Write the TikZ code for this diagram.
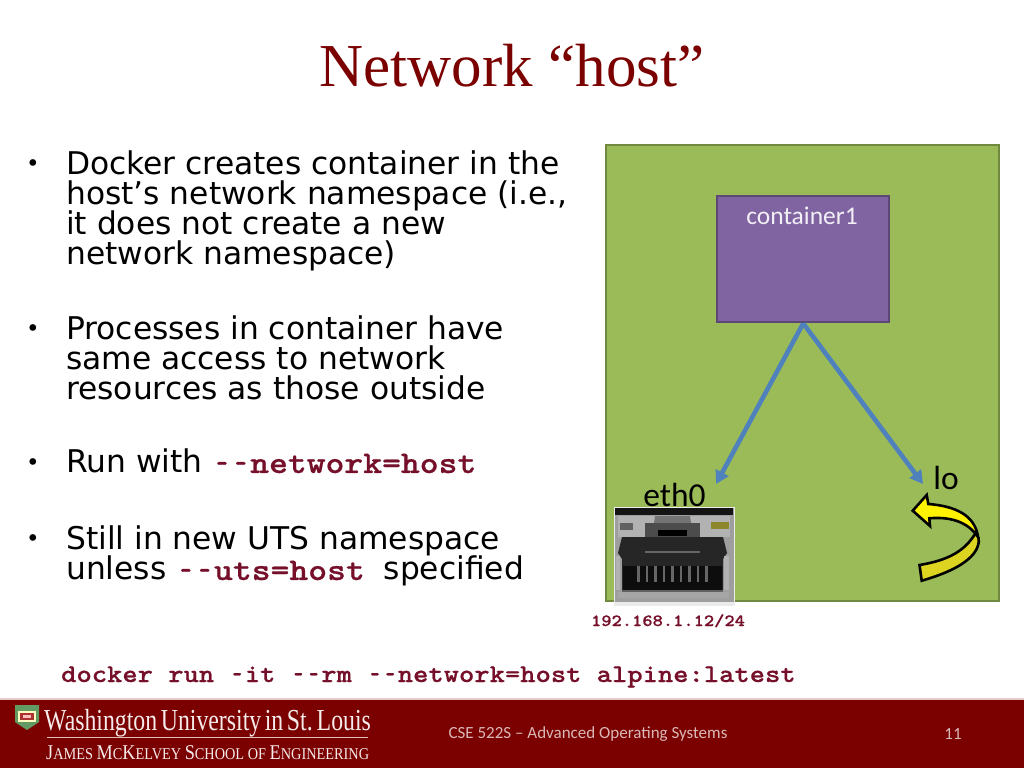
\documentclass[tikz,border=0pt]{standalone}
\usepackage{fontspec}
\setmainfont{DejaVu Sans}
\newfontfamily\titlefont{Liberation Serif}
\newfontfamily\calfont{Carlito}
\newfontfamily\codefont[FakeStretch=1.143,FakeBold=0.6]{Latin Modern Mono Light}
\usetikzlibrary{arrows.meta}
\lineskiplimit=-40pt\relax
\normallineskiplimit=-40pt\relax
\definecolor{wured}{HTML}{7B0000}
\definecolor{codered}{HTML}{76102A}
\definecolor{hostgreen}{HTML}{9BBB59}
\definecolor{hostedge}{HTML}{71893F}
\definecolor{boxpurple}{HTML}{8064A2}
\definecolor{boxedge}{HTML}{5C4776}
\definecolor{linkblue}{HTML}{4F81BD}
\tikzset{
  x=1pt,y=-1pt,
  bodytext/.style={anchor=north west,inner sep=0pt,align=left,text=black,font=\fontsize{31.3}{30}\selectfont},
  bulletmark/.style={anchor=center,inner sep=0pt,font=\fontsize{23}{23}\selectfont},
  codetext/.style={anchor=base west,inner sep=0pt,text=codered,font=\codefont\bfseries\fontsize{25.5}{26}\selectfont},
  linkarrow/.style={draw=linkblue,line width=4.6pt,-{Triangle[length=13pt,width=14pt]}},
  footertext/.style={anchor=center,inner sep=0pt,text=white!72!wured,font=\calfont\fontsize{17}{17}\selectfont},
  eplabel/.style={anchor=center,inner sep=0pt,text=black,font=\calfont\fontsize{33.5}{33}\selectfont},
  yellowband/.style={draw=black,line width=2.6pt,line join=miter},
}
\newcommand{\hy}{\setbox0=\hbox{-}\makebox[\wd0]{\scalebox{0.62}[1]{-}}}
\newcommand{\cd}[1]{{\codefont\bfseries\fontsize{31.4}{30}\selectfont\textcolor{codered}{#1}}}
\begin{document}
\begin{tikzpicture}
\useasboundingbox (0,0) rectangle (1024,768);
\fill[white] (0,0) rectangle (1024,768);

\node[anchor=center,inner sep=0pt,text=wured,font=\titlefont\fontsize{61}{60}\selectfont] (title) at (512,66) {Network “host”};

% bullets
\node[bulletmark] (b1) at (33,166) {•};
\node[bulletmark] (b2) at (33,331) {•};
\node[bulletmark] (b3) at (33,465) {•};
\node[bulletmark] (b4) at (33,541) {•};
\node[bodytext] (t1) at (66,151) {Docker creates container in the\\host’s network namespace (i.e.,\\it does not create a new\\network namespace)};
\node[bodytext] (t2) at (66,316) {Processes in container have\\same access to network\\resources as those outside};
\node[bodytext] (t3) at (66,449) {Run with \cd{\hy\hy{}network=host}};
\node[bodytext] (t4) at (66,526) {Still in new UTS namespace\\unless \cd{\hy\hy{}uts=host}\kern9pt{} specified};

% green host
\node[draw=hostedge,fill=hostgreen,line width=2.4pt,minimum width=393pt,minimum height=456pt,inner sep=0pt,anchor=north west] (host) at (605,144) {};
\node[draw=boxedge,fill=boxpurple,line width=2.4pt,minimum width=172pt,minimum height=126pt,inner sep=0pt,anchor=north west] (box) at (716,195) {};
\node[anchor=center,inner sep=0pt,text=white!90!boxpurple,font=\calfont\fontsize{25.5}{25}\selectfont] (boxlabel) at (802,216) {container1};

\coordinate (ethend) at (716,484);
\coordinate (loend) at (923,484);
\draw[linkarrow] (box.south) -- (ethend);
\draw[linkarrow] (box.south) -- (loend);

% RJ45 jack
\fill[white!92!black] (614,507) rectangle (735,606);
\fill[black!38] (615,508) rectangle (734,602);
\fill[black!92] (615,508) rectangle (733,515);
\fill[black!30] (618,516) rectangle (730,537);
\fill[black!55] (655,516) -- (690,516) -- (691,523) -- (654,523) -- cycle;
\fill[black!70] (645,523) -- (700,523) -- (700,537) -- (645,537) -- cycle;
\fill[black!85] (622,537) -- (723,537) -- (727,553) -- (723,559) -- (723,590) -- (622,590) -- (622,559) -- (618,553) -- cycle;
\fill[black] (658,530) rectangle (687,536);
\fill[black!60] (645,551) rectangle (700,553);
\fill[black!95] (623,566) rectangle (722,590);
\foreach \i in {0,...,8}{\fill[black!60] ({637+\i*8.5},566) rectangle ({639.5+\i*8.5},582);}
\fill[black!62] (622,590) rectangle (723,592);
\fill[olive!60!yellow!70!black] (711,522) rectangle (729,529);
\fill[black!62] (620,523) rectangle (633,530);
\fill[black!35] (618,592) rectangle (729,598);
\fill[white!70!black] (616,556) rectangle (620,590);
\fill[white!70!black] (724,556) rectangle (729,590);

\node[eplabel] (eth) at (674.5,495) {eth0};
\node[eplabel] (lo) at (946,478) {lo};

% loop arrow
\fill[yellow!85!black] (978.5,537) .. controls (981,552) and (966,568) .. (921.7,580.7) -- (919.5,565) .. controls (950,560) and (965,550) .. (975,534) -- cycle;
\draw[yellowband] (978.5,537) .. controls (981,552) and (966,568) .. (921.7,580.7) -- (919.5,565) .. controls (950,560) and (965,550) .. (975,534);
\fill[yellow,draw=black,line width=2.6pt,line join=miter] (912.7,510.7) -- (926.7,495) -- (928.3,504) .. controls (955,506) and (975,515) .. (978,537) .. controls (970,525) and (955,516) .. (929.3,518.3) -- (930,526) -- cycle;

\node[anchor=base,inner sep=0pt,text=codered,font=\codefont\bfseries\fontsize{17.1}{17}\selectfont] (ip) at (668,626) {192.168.1.12/24};
\node[codetext] (cmd) at (61,682) {docker run \hy{}it \hy\hy{}rm \hy\hy{}network=host alpine:latest};

% footer
\fill[wured] (0,699) rectangle (1024,768);
\fill[white!80!wured] (0,698) rectangle (1024,699.5);
\node[footertext] (foot) at (588,734) {CSE 522S – Advanced Operating Systems};
\node[footertext] (page) at (953,734) {11};

% logo
\fill[white!65!green!60!black] (15,705) -- (39,705) -- (39,722) -- (27,730) -- (15,722) -- cycle;
\fill[white!75!yellow] (18,711) rectangle (36,722);
\fill[red!60!black!80] (20,713) rectangle (34,720);
\fill[white!75!red] (23,715) rectangle (31,718);
\node[anchor=base west,inner sep=0pt,text=white!92!wured,font=\titlefont\fontsize{30.5}{30}\selectfont] (wu) at (44,730) {\scalebox{0.78}[1]{Washington\hspace{4.6pt}University\hspace{4.6pt}in\hspace{4.6pt}St.\,Louis}};
\draw[white!75!wured,line width=0.8pt] (47,737.5) -- (368,737.5);
\node[anchor=base west,inner sep=0pt,text=white!92!wured,font=\titlefont\fontsize{21}{21}\selectfont] (sch) at (46,759) {\scalebox{0.868}[1]{J\fontsize{16.5}{17}\selectfont AMES \fontsize{21}{21}\selectfont M\fontsize{16.5}{17}\selectfont C\fontsize{21}{21}\selectfont K\fontsize{16.5}{17}\selectfont ELVEY \fontsize{21}{21}\selectfont S\fontsize{16.5}{17}\selectfont CHOOL OF \fontsize{21}{21}\selectfont E\fontsize{16.5}{17}\selectfont NGINEERING}};
\end{tikzpicture}
\end{document}
